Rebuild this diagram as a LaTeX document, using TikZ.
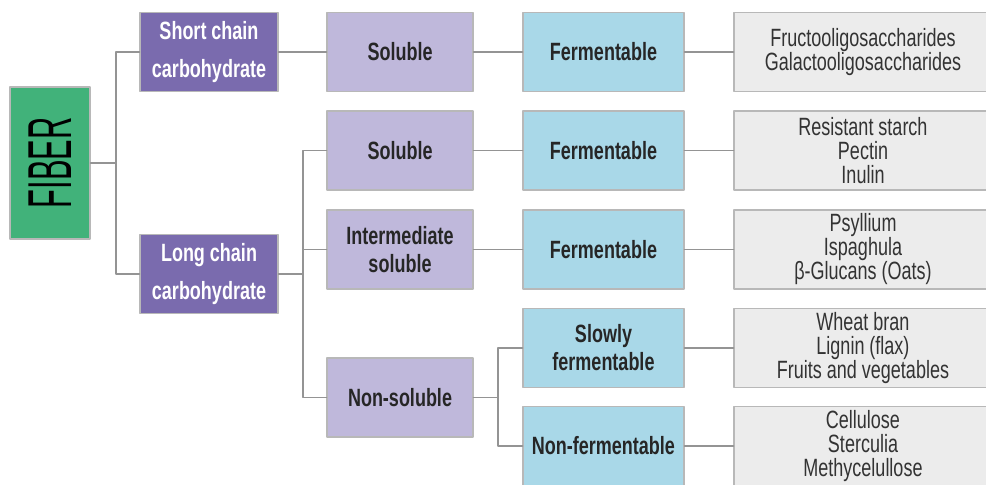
\documentclass[tikz,border=0pt]{standalone}
\usepackage{fontspec}
\setmainfont{Liberation Sans}[FakeStretch=0.72]
\definecolor{rootgreen}{HTML}{41B27A}
\definecolor{chainpurple}{HTML}{7A6BAE}
\definecolor{lilac}{HTML}{BFB8DB}
\definecolor{skyblue}{HTML}{A9D8E8}
\definecolor{exgray}{HTML}{ECECEC}
\begin{document}
\begin{tikzpicture}[x=0.5pt,y=-0.5pt, line join=round, line cap=round,
  box/.style={draw=black!28, line width=0.6pt, minimum height=39.5pt, align=center, inner sep=0pt},
  root/.style={box, fill=rootgreen, minimum width=40pt, minimum height=76pt},
  chain/.style={box, fill=chainpurple, text=white, font=\fontsize{12.5}{19}\selectfont\bfseries, minimum width=69pt},
  solub/.style={box, fill=lilac, text=black!85, font=\fontsize{12.5}{14}\selectfont\bfseries, minimum width=73pt},
  ferm/.style={box, fill=skyblue, text=black!85, font=\fontsize{12.5}{14}\selectfont\bfseries, minimum width=80.5pt},
  ex/.style={box, fill=exgray, text=black!80, font=\fontsize{12.5}{12}\selectfont, minimum width=129pt},
  link/.style={draw=black!42, line width=0.95pt}]
\def\xa{209} \def\xb{400} \def\xc{603.5} \def\xd{863} % column centres
\useasboundingbox (0,0) rectangle (986,484);
% root and chains
\node[root] (fiber) at (50,163) {\rotatebox{90}{\scalebox{0.69}[1]{\fontsize{31}{31}\selectfont FIBER}}};
\node[chain] (short) at (\xa,52) {Short chain\\carbohydrate};
\node[chain] (long) at (\xa,274) {Long chain\\carbohydrate};
% solubility
\node[solub] (sol1) at (\xb,52) {Soluble};
\node[solub] (sol2) at (\xb,150.5) {Soluble};
\node[solub] (inter) at (\xb,249.5) {Intermediate\\soluble};
\node[solub] (nonsol) at (\xb,397.5) {Non-soluble};
% fermentation
\node[ferm] (ferm1) at (\xc,52) {Fermentable};
\node[ferm] (ferm2) at (\xc,150.5) {Fermentable};
\node[ferm] (ferm3) at (\xc,249.5) {Fermentable};
\node[ferm] (slow) at (\xc,348) {Slowly\\fermentable};
\node[ferm] (nonferm) at (\xc,446) {Non-fermentable};
% examples
\node[ex] (ex1) at (\xd,52) {Fructooligosaccharides\\Galactooligosaccharides};
\node[ex] (ex2) at (\xd,150.5) {Resistant starch\\Pectin\\Inulin};
\node[ex] (ex3) at (\xd,249.5) {Psyllium\\Ispaghula\\β-Glucans (Oats)};
\node[ex] (ex4) at (\xd,348) {Wheat bran\\Lignin (flax)\\Fruits and vegetables};
\node[ex] (ex5) at (\xd,446) {Cellulose\\Sterculia\\Methycelullose};
% branch points
\coordinate (jA) at (116,163);
\coordinate (jB) at (303,274);
\coordinate (jC) at (498,397.5);
% connectors
\draw[link] (fiber.east) -- (jA) (short.west) -| (jA) |- (long.west);
\draw[link] (long.east) -- (jB) (sol2.west) -| (jB) |- (nonsol.west) (jB |- inter.west) -- (inter.west);
\draw[link] (nonsol.east) -- (jC) (slow.west) -| (jC) |- (nonferm.west);
\draw[link] (short.east) -- (sol1.west);
\draw[link] (sol1) -- (ferm1) (sol2) -- (ferm2) (inter) -- (ferm3);
\draw[link] (ferm1) -- (ex1) (ferm2) -- (ex2) (ferm3) -- (ex3) (slow) -- (ex4) (nonferm) -- (ex5);
\end{tikzpicture}
\end{document}
